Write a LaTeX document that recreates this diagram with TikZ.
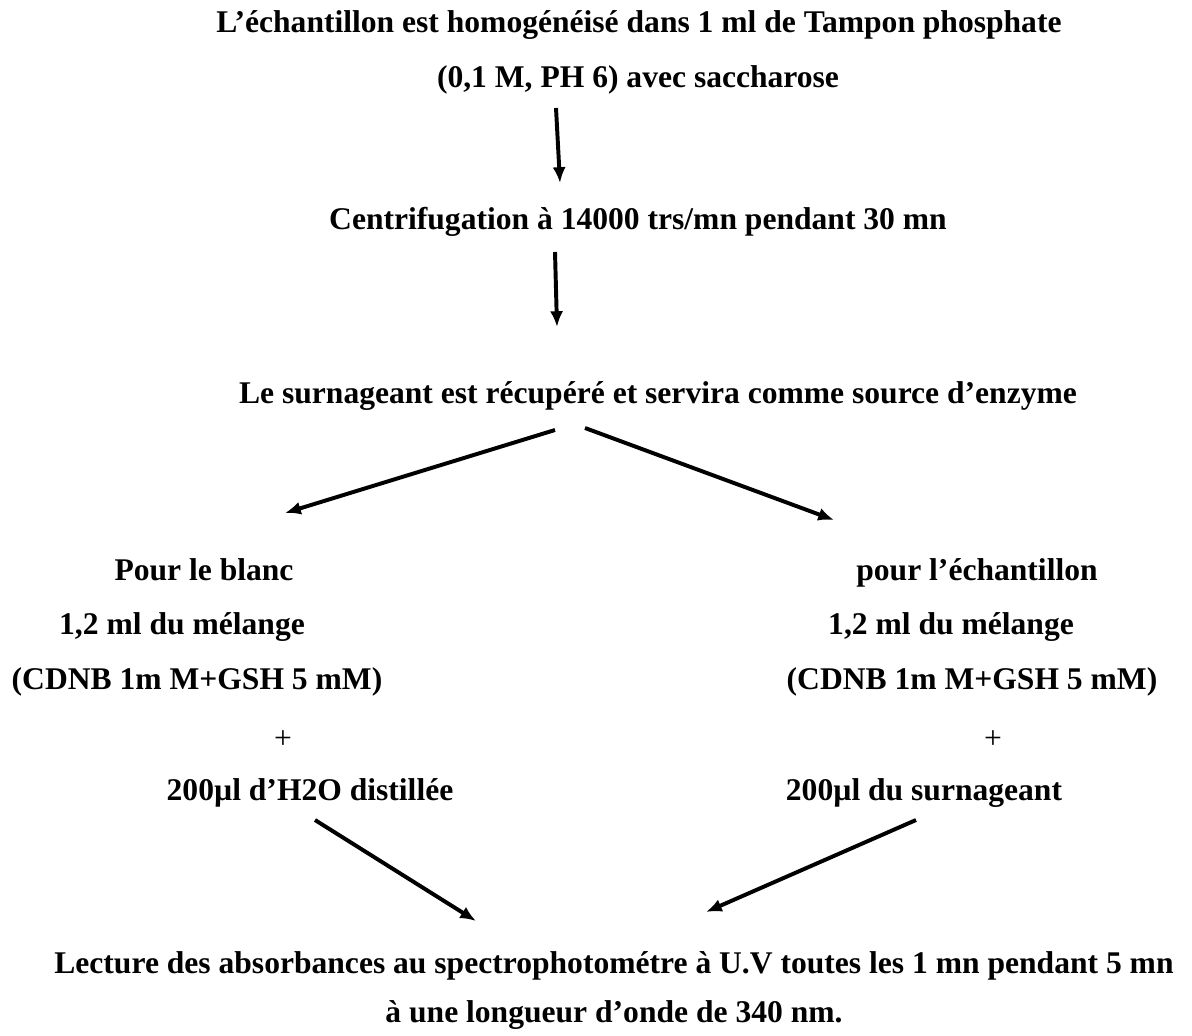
\documentclass[tikz,border=0pt]{standalone}
\usepackage{fontspec}
\setmainfont{Liberation Serif}
\usetikzlibrary{arrows.meta}

\tikzset{
  etape/.style={anchor=base, inner sep=0pt, font=\fontsize{12}{14}\selectfont\bfseries},
  signe/.style={anchor=base, inner sep=0pt, font=\fontsize{12}{14}\selectfont},
  fleche/.style={-{Latex[length=6pt,width=5pt]}, line width=1.5pt}
}

\begin{document}
\begin{tikzpicture}[x=0.38pt,y=-0.38pt]
            \useasboundingbox (0,0) rectangle (1192,1036);
            % etapes du haut
            \node[etape] (homog) at (639,33) {L’échantillon est homogénéisé dans 1 ml de Tampon phosphate};
            \node[etape] (tampon) at (638,88) {(0,1 M, PH 6) avec saccharose};
            \node[etape] (centri) at (638,230) {Centrifugation à 14000 trs/mn pendant 30 mn};
            \node[etape] (surnag) at (658,404) {Le surnageant est récupéré et servira comme source d’enzyme};
            % blanc
            \node[etape] (blanc) at (204,580) {Pour le blanc};
            \node[etape] (melB) at (182,634) {1,2 ml du mélange};
            \node[etape] (cdnbB) at (197,689) {(CDNB 1m M+GSH 5 mM)};
            \node[signe] (plusB) at (283,748) {+};
            \node[etape] (eau) at (310,800) {200µl d’H2O distillée};
            % echantillon
            \node[etape] (echan) at (977,580) {pour l’échantillon};
            \node[etape] (melE) at (951,634) {1,2 ml du mélange};
            \node[etape] (cdnbE) at (972,689) {(CDNB 1m M+GSH 5 mM)};
            \node[signe] (plusE) at (993,748) {+};
            \node[etape] (surE) at (924,800) {200µl du surnageant};
            % lecture
            \node[etape] (lect) at (614,973) {Lecture des absorbances au spectrophotométre à U.V toutes les 1 mn pendant 5 mn};
            \node[etape] (onde) at (614,1022) {à une longueur d’onde de 340 nm.};
            % extremites des fleches
            \coordinate (f1a) at (556,108); \coordinate (f1b) at (560,183);
            \coordinate (f2a) at (555,252); \coordinate (f2b) at (557,327);
            \coordinate (f3a) at (555,430); \coordinate (f3b) at (285,513);
            \coordinate (f4a) at (585,428); \coordinate (f4b) at (834,520);
            \coordinate (f5a) at (315,820); \coordinate (f5b) at (476,921);
            \coordinate (f6a) at (916,820); \coordinate (f6b) at (706,912);
            \foreach \a/\b in {f1a/f1b,f2a/f2b,f3a/f3b,f4a/f4b,f5a/f5b,f6a/f6b}
                \draw[fleche] (\a) -- (\b);
        \end{tikzpicture}
\end{document}
